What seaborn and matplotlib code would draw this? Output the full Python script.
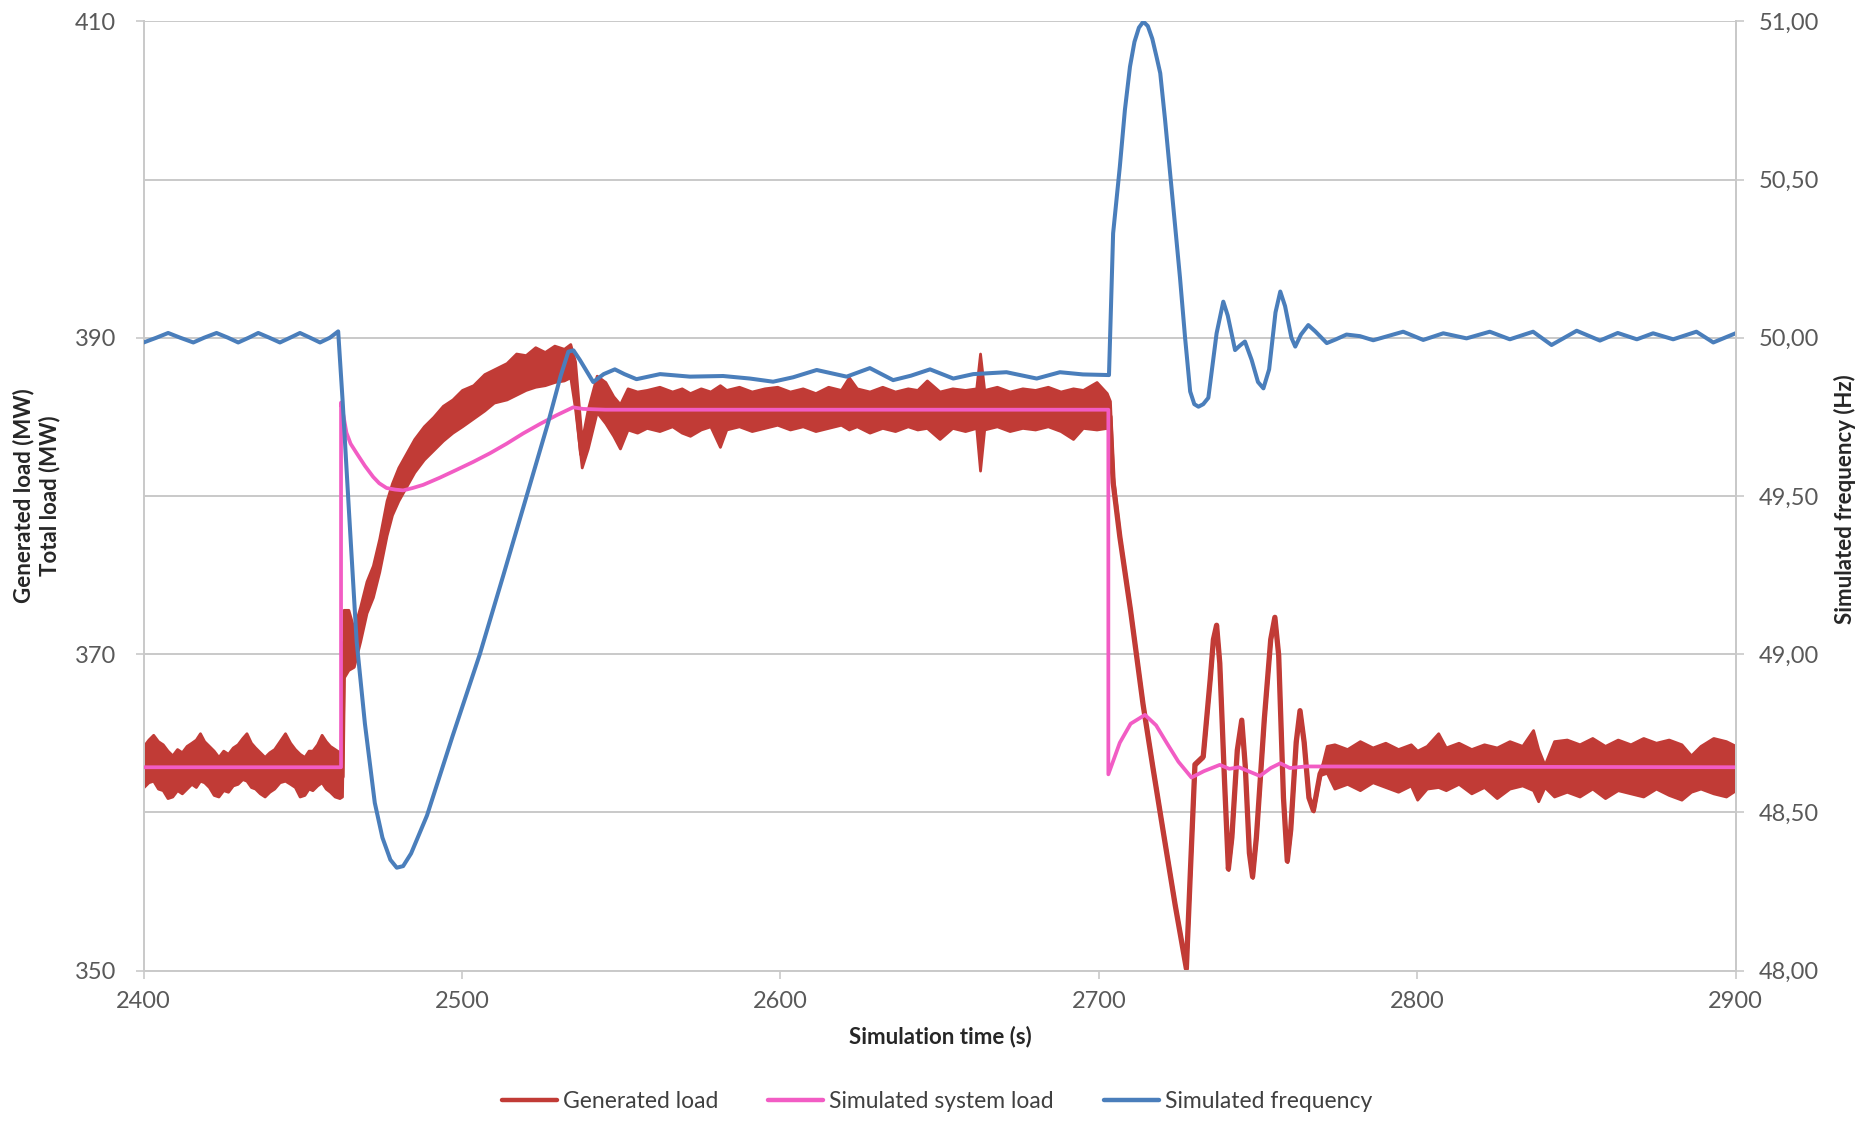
import numpy as np
import pandas as pd
import matplotlib
matplotlib.use("Agg")
import matplotlib.pyplot as plt
import seaborn as sns
from matplotlib.lines import Line2D
from matplotlib.ticker import FuncFormatter

sns.set_theme(style="white")
plt.rcParams['font.family'] = ['Lato', 'DejaVu Sans']

# ---------------- data ----------------
# Generated load (MW): noisy signal, given as lower/upper envelope of the trace
gen_time = [
    2400.0, 2401.5, 2403.0, 2404.5, 2406.0, 2407.5, 2409.0, 2410.5, 2412.0, 2413.5,
    2415.0, 2416.4, 2417.7, 2419.0, 2420.5, 2422.0, 2423.5, 2425.0, 2426.5, 2428.0,
    2429.5, 2431.0, 2432.3, 2433.7, 2435.0, 2436.5, 2438.0, 2439.5, 2441.0, 2442.7,
    2444.4, 2446.0, 2447.5, 2449.0, 2450.5, 2451.8, 2453.0, 2454.5, 2455.9, 2457.2,
    2458.5, 2460.0, 2461.5, 2462.3,
    2462.8, 2464.3, 2466.0, 2468.0, 2470.0, 2472.0, 2474.0, 2476.3, 2478.0, 2480.0,
    2482.5, 2485.0, 2488.0, 2491.0, 2494.0, 2497.0, 2500.0, 2503.5, 2507.0, 2510.0,
    2514.0, 2517.0, 2520.0, 2523.0, 2526.0, 2529.0, 2532.0, 2534.0, 2535.5, 2537.6,
    2539.5, 2542.3, 2545.0, 2547.5, 2549.6, 2552.0, 2555.0,
    2558.0, 2562.0, 2566.0, 2569.0, 2571.6, 2575.0, 2578.0, 2581.0, 2583.0, 2587.0,
    2591.0, 2595.0, 2599.0, 2603.0, 2607.0, 2611.0, 2615.0, 2619.0, 2621.5, 2624.0,
    2628.0, 2632.0, 2636.0, 2640.0, 2643.0, 2646.0, 2650.0, 2654.0, 2658.0, 2661.5,
    2662.7, 2664.0, 2668.0, 2672.0, 2676.0, 2680.0, 2684.0, 2688.0, 2691.9, 2695.0,
    2699.3, 2702.5,
    2703.5, 2704.5, 2706.6, 2710.0, 2713.9, 2717.0, 2720.2, 2724.0, 2727.5, 2728.8,
    2730.2, 2732.8, 2735.0, 2736.0, 2737.0, 2738.0, 2739.5, 2740.7, 2741.8, 2743.5,
    2744.9, 2746.0, 2747.3, 2748.3, 2749.5, 2752.0, 2754.0, 2755.3, 2756.5, 2758.0,
    2759.2, 2760.3, 2762.0, 2763.2, 2764.5, 2766.0, 2767.4, 2769.5,
    2771.6, 2774.0, 2778.0, 2782.0, 2786.0, 2790.0, 2794.0, 2798.0, 2800.0, 2803.0,
    2806.6, 2809.0, 2813.0, 2817.0, 2821.0, 2825.0, 2829.0, 2833.0, 2836.4, 2838.0,
    2840.0, 2843.0, 2847.0, 2851.0, 2855.0, 2859.0, 2863.0, 2867.0, 2871.0, 2875.0,
    2879.0, 2883.0, 2886.0, 2889.0, 2893.0, 2897.0, 2900.0,
]
gen_low = [
    361.6, 361.9, 362.0, 361.5, 361.4, 360.9, 361.0, 361.4, 361.2, 361.5,
    361.8, 361.6, 362.0, 361.9, 361.6, 361.1, 361.0, 361.4, 361.3, 361.7,
    361.8, 362.1, 362.0, 361.6, 361.5, 361.2, 361.0, 361.3, 361.5, 361.9,
    362.0, 361.8, 361.6, 361.0, 361.1, 361.5, 361.4, 361.7, 361.9, 361.5,
    361.3, 361.0, 360.9, 361.0,
    368.5, 369.0, 369.2, 370.8, 372.6, 373.6, 375.2, 377.5, 378.8, 379.7,
    380.6, 381.5, 382.3, 382.9, 383.5, 384.0, 384.4, 384.9, 385.4, 385.9,
    386.1, 386.4, 386.7, 386.9, 387.0, 387.2, 387.3, 387.5, 385.5, 381.8,
    383.0, 385.3, 384.6, 383.8, 383.0, 384.2, 384.0,
    384.3, 384.1, 384.4, 384.0, 383.8, 384.2, 384.4, 383.1, 384.2, 384.4,
    384.1, 384.3, 384.5, 384.2, 384.4, 384.1, 384.3, 384.5, 384.2, 384.4,
    384.0, 384.3, 384.1, 384.4, 384.2, 384.3, 383.6, 384.3, 384.1, 384.3,
    381.6, 384.2, 384.4, 384.1, 384.3, 384.2, 384.4, 384.1, 383.6, 384.3,
    384.2, 384.3,
    384.0, 380.5, 377.35, 372.65, 366.75, 362.75, 358.75, 354.05, 350.05, 356.35,
    362.95, 363.45, 368.35, 370.85, 371.75, 369.35, 361.85, 356.35, 358.35, 363.85,
    365.75, 362.85, 357.35, 355.85, 358.35, 365.85, 370.85, 372.25, 369.85, 360.85,
    356.85, 358.85, 364.35, 366.35, 364.35, 360.85, 360.05, 362.35,
    362.5, 361.5, 361.8, 361.4, 361.9, 361.6, 361.3, 361.7, 360.8, 361.5,
    361.6, 361.4, 361.8, 361.2, 361.6, 360.9, 361.5, 361.7, 361.4, 360.7,
    361.6, 361.0, 361.3, 361.0, 361.5, 360.9, 361.4, 361.2, 361.0, 361.5,
    361.1, 360.8, 361.3, 361.5, 361.2, 361.0, 361.4,
]
gen_high = [
    364.2, 364.6, 364.9, 364.5, 364.3, 363.9, 363.6, 364.0, 363.8, 364.2,
    364.4, 364.6, 365.0, 364.5, 364.2, 363.9, 363.5, 363.9, 363.7, 364.1,
    364.3, 364.7, 365.0, 364.4, 364.1, 363.8, 363.5, 363.8, 364.0, 364.5,
    365.0, 364.4, 364.0, 363.7, 363.5, 363.9, 363.9, 364.3, 364.9, 364.5,
    364.2, 364.0, 363.8, 363.5,
    372.8, 372.8, 371.6, 373.0, 374.6, 375.6, 377.3, 379.7, 380.8, 381.8,
    382.7, 383.6, 384.4, 385.0, 385.7, 386.1, 386.7, 387.0, 387.7, 388.0,
    388.4, 389.0, 388.9, 389.4, 389.1, 389.5, 389.3, 389.6, 388.5, 383.5,
    385.5, 387.6, 387.2, 386.3, 385.8, 386.8, 386.6,
    386.7, 386.9, 386.6, 386.8, 386.5, 386.8, 386.6, 387.0, 386.7, 386.9,
    386.6, 386.8, 386.9, 386.6, 386.8, 386.5, 386.9, 386.7, 387.5, 386.8,
    386.6, 386.9, 386.6, 386.8, 386.7, 387.3, 386.6, 386.8, 386.7, 386.8,
    389.0, 386.7, 386.9, 386.6, 386.8, 386.7, 386.9, 386.6, 386.8, 386.7,
    387.2, 386.5,
    386.0, 381.2, 377.5, 372.8, 366.9, 362.9, 358.9, 354.2, 350.2, 356.5,
    363.1, 363.6, 368.5, 371.0, 371.9, 369.5, 362.0, 356.5, 358.5, 364.0,
    365.9, 363.0, 357.5, 356.0, 358.5, 366.0, 371.0, 372.4, 370.0, 361.0,
    357.0, 359.0, 364.5, 366.5, 364.5, 361.0, 360.2, 362.5,
    364.2, 364.3, 364.0, 364.5, 364.1, 364.4, 364.0, 364.3, 363.9, 364.2,
    365.0, 364.1, 364.4, 364.0, 364.3, 364.1, 364.5, 364.2, 365.2, 364.0,
    363.0, 364.5, 364.6, 364.3, 364.7, 364.2, 364.6, 364.3, 364.7, 364.4,
    364.6, 364.3, 363.6, 364.2, 364.7, 364.5, 364.2,
]

# Simulated system load (MW)
sys_time = [
    2400.0, 2462.0, 2462.0, 2463.0, 2463.7, 2465.0, 2466.9, 2469.5, 2472.1, 2474.0,
    2476.3, 2479.0, 2481.5, 2484.5, 2487.8, 2493.0, 2498.3, 2503.5, 2508.8, 2514.0,
    2519.2, 2524.5, 2529.7, 2534.9, 2538.0, 2545.0, 2703.0,
    2703.0, 2706.6, 2710.0, 2714.5, 2718.0, 2721.3, 2725.0, 2729.1, 2733.0, 2738.0,
    2741.0, 2744.0, 2747.0, 2750.6, 2754.0, 2757.0, 2760.0, 2765.0, 2900.0,
]
sys_load = [
    362.85, 362.85, 385.9, 384.8, 384.0, 383.3, 382.7, 381.9, 381.2, 380.8,
    380.5, 380.4, 380.35, 380.5, 380.7, 381.15, 381.65, 382.15, 382.7, 383.3,
    383.95, 384.55, 385.1, 385.6, 385.5, 385.45, 385.45,
    362.4, 364.4, 365.6, 366.16, 365.5, 364.4, 363.2, 362.2, 362.6, 363.0,
    362.75, 362.85, 362.6, 362.3, 362.8, 363.1, 362.8, 362.9, 362.85,
]

# Simulated frequency (Hz)
freq_time = [
    2400.0, 2404.0, 2407.7, 2411.5, 2415.6, 2419.0, 2422.9, 2426.5, 2429.7, 2433.0,
    2436.0, 2439.5, 2442.8, 2446.0, 2449.1, 2452.3, 2455.4, 2458.5, 2461.1, 2462.5,
    2464.5, 2466.9, 2469.5, 2472.6, 2475.0, 2477.5, 2479.5, 2481.5, 2484.0, 2486.5,
    2489.0, 2497.0, 2505.6, 2513.0, 2520.3, 2527.0, 2531.0, 2533.4, 2535.0, 2537.0,
    2541.2, 2544.5, 2548.0, 2551.0, 2554.8, 2562.2, 2571.6, 2582.0, 2590.4, 2597.7,
    2604.0, 2611.4, 2620.8, 2628.1, 2635.4, 2641.0, 2647.0, 2654.3, 2660.6, 2671.0,
    2680.5, 2687.8, 2695.0, 2703.2, 2704.5, 2706.6, 2708.2, 2709.8, 2711.2, 2712.6,
    2714.0, 2715.4, 2716.8, 2718.2, 2719.3, 2720.8, 2722.4, 2724.0, 2725.5, 2727.1,
    2728.7, 2730.0, 2731.3, 2732.8, 2734.4, 2737.0, 2739.1,
    2740.5, 2742.8, 2744.3, 2745.9, 2748.0, 2750.0, 2751.7, 2753.5, 2755.5, 2757.0,
    2758.5, 2760.5, 2761.7, 2763.5, 2765.8, 2768.0, 2771.6, 2774.5, 2777.8, 2782.0,
    2786.2, 2795.6, 2801.9, 2808.2, 2815.5, 2822.8, 2829.1, 2836.4, 2842.2, 2850.1,
    2857.4, 2863.0, 2869.0, 2874.1, 2880.4, 2887.7, 2893.0, 2900.0,
]
freq_hz = [
    49.985, 50.000, 50.015, 50.000, 49.985, 50.000, 50.015, 50.000, 49.985, 50.000,
    50.015, 50.000, 49.985, 50.000, 50.015, 50.000, 49.985, 50.000, 50.020, 49.800,
    49.450, 49.040, 48.780, 48.530, 48.420, 48.350, 48.325, 48.330, 48.370, 48.430,
    48.490, 48.740, 49.000, 49.250, 49.500, 49.730, 49.880, 49.956, 49.960, 49.930,
    49.860, 49.885, 49.900, 49.885, 49.869, 49.885, 49.877, 49.879, 49.871, 49.861,
    49.875, 49.898, 49.877, 49.904, 49.866, 49.880, 49.900, 49.871, 49.885, 49.891,
    49.871, 49.891, 49.884, 49.882, 50.330, 50.540, 50.720, 50.857, 50.935, 50.980,
    50.999, 50.985, 50.945, 50.885, 50.836, 50.690, 50.520, 50.350, 50.190, 50.000,
    49.830, 49.790, 49.782, 49.790, 49.810, 50.014, 50.114,
    50.070, 49.961, 49.975, 49.988, 49.930, 49.860, 49.840, 49.900, 50.080, 50.146,
    50.100, 50.000, 49.972, 50.010, 50.040, 50.020, 49.983, 49.995, 50.010, 50.005,
    49.992, 50.019, 49.993, 50.014, 49.998, 50.019, 49.995, 50.019, 49.977, 50.022,
    49.991, 50.015, 49.995, 50.014, 49.995, 50.019, 49.985, 50.014,
]

load_major_ticks = [350, 370, 390, 410]
load_minor_ticks = [360, 380, 400]
freq_ticks = [48.0, 48.5, 49.0, 49.5, 50.0, 50.5, 51.0]
time_ticks = [2400, 2500, 2600, 2700, 2800, 2900]

series_names = ["Generated load", "Simulated system load", "Simulated frequency"]

# ---------------- styling ----------------
RED = "#C13B36"
PINK = "#F25CC4"
BLUE = "#4A7EBB"
GRID = "#C9C9C9"
TICKC = "#595959"

fig = plt.figure(figsize=(18.63, 11.22), dpi=100)
ax = fig.add_axes([0.0771, 0.135, 0.8545, 0.846])

ax.fill_between(gen_time, gen_low, gen_high, facecolor=RED, edgecolor=RED,
                linewidth=2.0, zorder=2)
gen_df = pd.DataFrame({"t": gen_time,
                       "v": (np.array(gen_low) + np.array(gen_high)) / 2.0})
sns.lineplot(data=gen_df, x="t", y="v", ax=ax, color=RED, linewidth=3.8,
             estimator=None, sort=False, zorder=2)

sys_df = pd.DataFrame({"t": sys_time, "v": sys_load})
sns.lineplot(data=sys_df, x="t", y="v", ax=ax, color=PINK, linewidth=2.7,
             estimator=None, sort=False, zorder=3)

ax.set_xlim(2400, 2900)
ax.set_ylim(350, 410)
ax.set_yticks(load_major_ticks)
ax.set_yticks(load_minor_ticks, minor=True)
ax.set_xticks(time_ticks)
ax.grid(True, which="both", axis="y", color=GRID, linewidth=1.4)
ax.grid(False, axis="x")
ax.set_axisbelow(True)
ax.set_xlabel("")
ax.set_ylabel("")

ax.spines["top"].set_visible(False)
for s in ["left", "bottom", "right"]:
    ax.spines[s].set_color(GRID)
    ax.spines[s].set_linewidth(1.4)

ax.tick_params(axis="y", which="major", left=True, direction="out", length=6,
               width=1.2, color=GRID, pad=14, labelsize=17, labelcolor=TICKC)
ax.tick_params(axis="y", which="minor", left=False, length=0)
ax.tick_params(axis="x", which="major", bottom=True, direction="out", length=6,
               width=1.2, color=GRID, pad=9, labelsize=17, labelcolor=TICKC)

ax2 = ax.twinx()
freq_df = pd.DataFrame({"t": freq_time, "v": freq_hz})
sns.lineplot(data=freq_df, x="t", y="v", ax=ax2, color=BLUE, linewidth=2.9,
             estimator=None, sort=False)
ax2.set_ylim(48, 51)
ax2.set_xlim(2400, 2900)
ax2.set_yticks(freq_ticks)
ax2.yaxis.set_major_formatter(FuncFormatter(lambda v, p: f"{v:.2f}".replace(".", ",")))
ax2.set_ylabel("")
ax2.set_xlabel("")
ax2.grid(False)
for s in ["top", "left", "bottom"]:
    ax2.spines[s].set_visible(False)
ax2.spines["right"].set_color(GRID)
ax2.spines["right"].set_linewidth(1.4)
ax2.tick_params(axis="y", right=True, direction="out", length=6, width=1.2,
                color=GRID, pad=11, labelsize=17, labelcolor=TICKC)

# axis titles
fig.text(0.5045, 0.076, "Simulation time (s)", ha="center", va="center",
         fontsize=16, fontweight="bold", color="#262626")
fig.text(0.0195, 0.558, "Generated load (MW)\nTotal load (MW)", ha="center", va="center",
         rotation=90, fontsize=16, fontweight="bold", color="#262626",
         multialignment="center", linespacing=1.25)
fig.text(0.9905, 0.555, "Simulated frequency (Hz)", ha="center", va="center",
         rotation=90, fontsize=16, fontweight="bold", color="#262626")

handles = [Line2D([0], [0], color=RED, linewidth=3.2),
           Line2D([0], [0], color=PINK, linewidth=3.2),
           Line2D([0], [0], color=BLUE, linewidth=3.2)]
fig.legend(handles, series_names, loc="center", bbox_to_anchor=(0.503, 0.018),
           ncol=3, frameon=False, fontsize=16.5, handlelength=2.4,
           handletextpad=0.25, columnspacing=2.2, labelcolor="#404040")

fig.savefig("out.png", dpi=100)
